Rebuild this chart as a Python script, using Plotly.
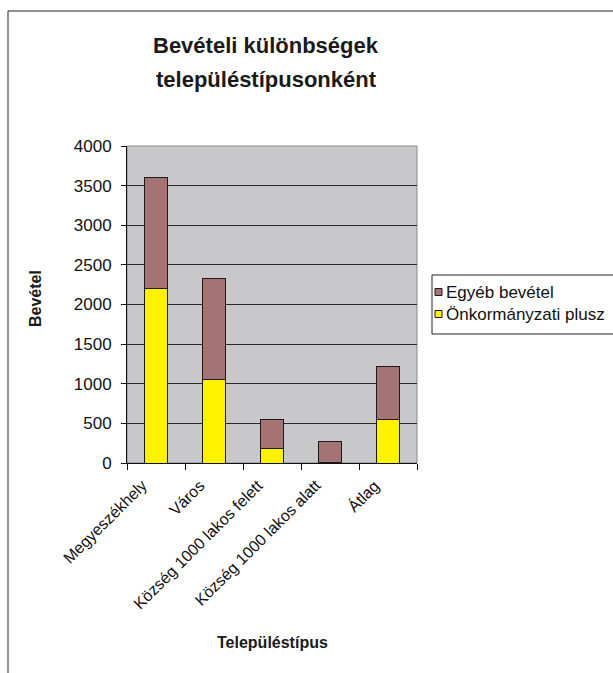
import plotly.graph_objects as go

# Revenue by settlement type (stacked)
categories = ["Megyeszékhely", "Város", "Község 1000 lakos felett",
              "Község 1000 lakos alatt", "Átlag"]
onkormanyzati_plusz = [2200, 1050, 180, 10, 555]
egyeb_bevetel = [1400, 1280, 375, 265, 660]
y_ticks = [0, 500, 1000, 1500, 2000, 2500, 3000, 3500, 4000]

SERIES_NAMES = ["Egyéb bevétel", "Önkormányzati plusz"]
YELLOW, MAUVE = "#FFF200", "#A57373"

FONT = "Arial, 'Liberation Sans', sans-serif"
W, H = 613, 673
L, R, T, B = 127, 196, 146, 210
PW, PH = W - L - R, H - T - B


def px_x(p):
    return (p - L) / PW


def px_y(p):
    return (H - B - p) / PH


fig = go.Figure()
fig.add_trace(go.Bar(
    x=categories, y=onkormanyzati_plusz, name=SERIES_NAMES[1],
    marker=dict(color=YELLOW, line=dict(color="#1a1a1a", width=1)),
))
fig.add_trace(go.Bar(
    x=categories, y=egyeb_bevetel, name=SERIES_NAMES[0],
    marker=dict(color=MAUVE, line=dict(color="#1a1a1a", width=1)),
))

shapes = [
    # outer chart frame
    dict(type="rect", xref="paper", yref="paper",
         x0=px_x(8), x1=px_x(700), y0=px_y(760), y1=px_y(11),
         line=dict(color="#222222", width=1), layer="below"),
    # plot area frame
    dict(type="rect", xref="paper", yref="paper", x0=0, x1=1, y0=0, y1=1,
         line=dict(color="#8a8a8a", width=1), layer="below"),
    # legend frame
    dict(type="rect", xref="paper", yref="paper",
         x0=px_x(432), x1=px_x(700), y0=px_y(334), y1=px_y(275),
         line=dict(color="#222222", width=1), fillcolor="white"),
]

annotations = [
    dict(text="<b>Bevételi különbségek</b>", xref="paper", yref="paper",
         x=px_x(266), y=px_y(45), xanchor="center", yanchor="middle",
         showarrow=False, font=dict(family=FONT, size=22, color="#1a1a1a")),
    dict(text="<b>településtípusonként</b>", xref="paper", yref="paper",
         x=px_x(266), y=px_y(80), xanchor="center", yanchor="middle",
         showarrow=False, font=dict(family=FONT, size=22, color="#1a1a1a")),
    dict(text="<b>Bevétel</b>", xref="paper", yref="paper",
         x=px_x(35), y=px_y(299), xanchor="center", yanchor="middle",
         textangle=-90, showarrow=False,
         font=dict(family=FONT, size=16, color="#1a1a1a")),
    dict(text="<b>Településtípus</b>", xref="paper", yref="paper",
         x=px_x(272), y=px_y(642), xanchor="center", yanchor="middle",
         showarrow=False, font=dict(family=FONT, size=16, color="#1a1a1a")),
]

# category labels, slanted and ending just left of each category centre
for cat in categories:
    annotations.append(dict(text=cat, xref="x", yref="paper",
                            x=cat, y=px_y(474), xanchor="right",
                            yanchor="top", xshift=-3, textangle=-45,
                            showarrow=False,
                            font=dict(family=FONT, size=16, color="#111111")))

# legend entries: small swatch + label, top entry is the upper stack segment
legend_rows = [(SERIES_NAMES[0], MAUVE, 292), (SERIES_NAMES[1], YELLOW, 314)]
for name, color, cy in legend_rows:
    shapes.append(dict(type="rect", xref="paper", yref="paper",
                       x0=px_x(435), x1=px_x(442),
                       y0=px_y(cy + 3.5), y1=px_y(cy - 3.5),
                       fillcolor=color, line=dict(color="#1a1a1a", width=1)))
    annotations.append(dict(text=name, xref="paper", yref="paper",
                            x=px_x(444), y=px_y(cy), xanchor="left",
                            yanchor="middle", showarrow=False,
                            font=dict(family=FONT, size=17, color="#111111")))

fig.update_layout(
    width=W, height=H,
    margin=dict(l=L, r=R, t=T, b=B, autoexpand=False),
    paper_bgcolor="white",
    plot_bgcolor="#C8C8CA",
    barmode="stack",
    bargap=0.6,
    font=dict(family=FONT, size=16, color="#111111"),
    showlegend=False,
    shapes=shapes,
    annotations=annotations,
)

fig.update_xaxes(
    type="category",
    categoryorder="array", categoryarray=categories,
    range=[-0.5, len(categories) - 0.5],
    autorange=False,
    showgrid=False,
    showline=True, linecolor="#111111", linewidth=1,
    ticks="outside", ticklen=6, tickcolor="#111111",
    tickson="boundaries",
    showticklabels=False,
)
fig.update_yaxes(
    range=[0, 4000],
    tickvals=y_ticks,
    showgrid=True, gridcolor="#2a2a2a", gridwidth=1,
    zeroline=False,
    showline=True, linecolor="#111111", linewidth=1,
    ticks="outside", ticklen=5, tickcolor="#111111",
    ticklabelstandoff=6,
    tickfont=dict(family=FONT, size=17, color="#111111"),
)

fig.write_html("out.html")
